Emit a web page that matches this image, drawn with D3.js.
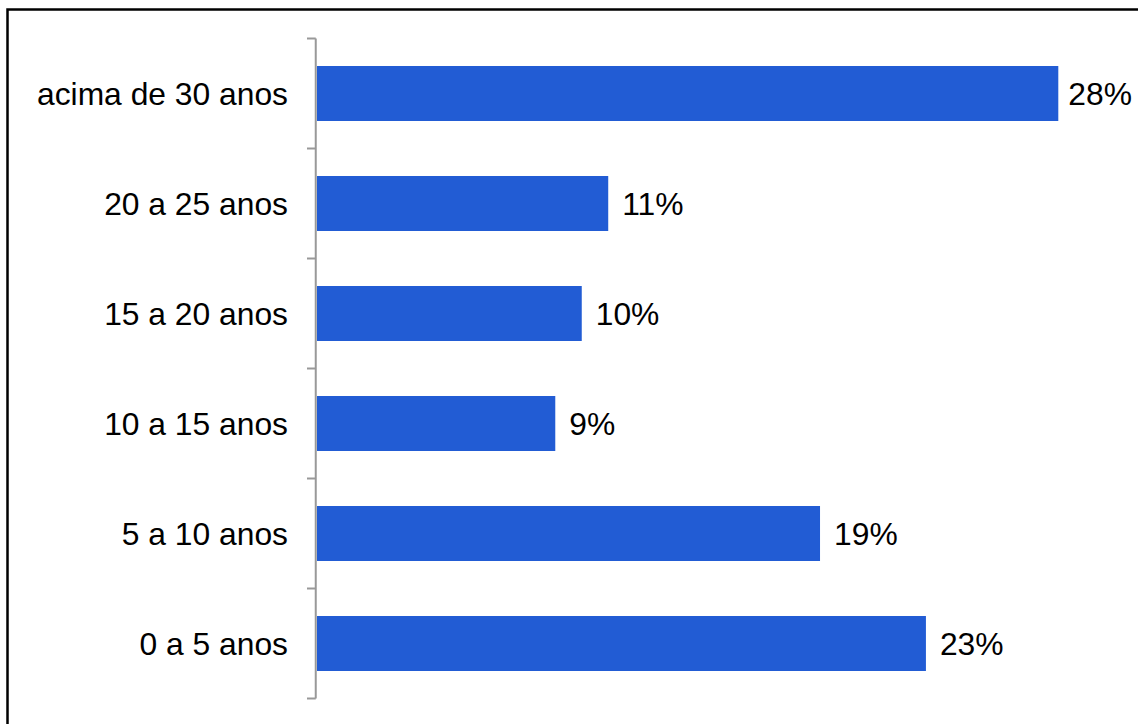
<!DOCTYPE html>
<html>
<head>
<meta charset="utf-8">
<script src="https://cdn.jsdelivr.net/npm/d3@7"></script>
<style>
  html, body { margin: 0; padding: 0; background: #fff; }
  svg { display: block; }
  text { font-family: "Liberation Sans", Arial, sans-serif; fill: #000; }
</style>
</head>
<body>
<svg id="chart" width="1138" height="724"></svg>
<script>
// Tempo de serviço: share of respondents per bracket
const categories = ["acima de 30 anos", "20 a 25 anos", "15 a 20 anos", "10 a 15 anos", "5 a 10 anos", "0 a 5 anos"];
const values = [28, 11, 10, 9, 19, 23];
const valueLabels = ["28%", "11%", "10%", "9%", "19%", "23%"];

const W = 1138, H = 724;
const svg = d3.select("#chart");

// outer frame (runs past the right and bottom edges)
svg.append("rect")
  .attr("x", 7.5).attr("y", 9.5)
  .attr("width", W + 20).attr("height", H + 20)
  .attr("fill", "none").attr("stroke", "#000").attr("stroke-width", 2.5);

const x = d3.scaleLinear().domain([0, 30]).range([317, 1111.25]);
const y = d3.scaleBand().domain(categories).range([38.5, 698.5])
  .paddingInner(0.5).paddingOuter(0.25);

const fontSize = 31.8;
const axisX = 315.75;

// bars
svg.append("g").selectAll("rect")
  .data(values)
  .join("rect")
  .attr("x", x(0))
  .attr("y", (d, i) => y(categories[i]))
  .attr("width", d => x(d) - x(0))
  .attr("height", y.bandwidth())
  .attr("fill", "#225CD4");

// vertical axis with ticks at band boundaries
const axis = svg.append("g");
const step = y.step();
const start = y.range()[0];
const bounds = d3.range(categories.length + 1).map(k => start + k * step);
axis.append("line")
  .attr("x1", axisX).attr("x2", axisX)
  .attr("y1", bounds[0]).attr("y2", bounds[bounds.length - 1])
  .attr("stroke", "#999").attr("stroke-width", 2);
axis.selectAll("line.tick")
  .data(bounds)
  .join("line")
  .attr("class", "tick")
  .attr("x1", 307).attr("x2", axisX)
  .attr("y1", d => d).attr("y2", d => d)
  .attr("stroke", "#999").attr("stroke-width", 2);

// category labels
svg.append("g").selectAll("text")
  .data(categories)
  .join("text")
  .attr("x", 288)
  .attr("y", d => y(d) + y.bandwidth() / 2 + fontSize * 0.358)
  .attr("text-anchor", "end")
  .style("font-size", fontSize + "px")
  .text(d => d);

// value labels, kept inside the frame
const rightLimit = 1132;
svg.append("g").selectAll("text")
  .data(values)
  .join("text")
  .attr("y", (d, i) => y(categories[i]) + y.bandwidth() / 2 + fontSize * 0.358)
  .style("font-size", fontSize + "px")
  .text((d, i) => valueLabels[i])
  .attr("x", function (d) {
    const w = this.getComputedTextLength();
    return Math.min(x(d) + 14, rightLimit - w);
  });
</script>
</body>
</html>
